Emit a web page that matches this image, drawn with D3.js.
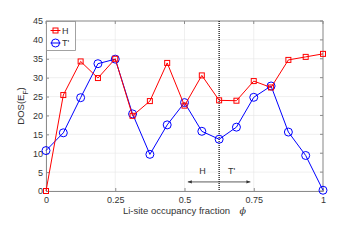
<!DOCTYPE html>
<html>
<head>
<meta charset="utf-8">
<script src="https://cdn.jsdelivr.net/npm/d3@7"></script>
<style>
  body { margin: 0; background: #fff; }
  text { font-family: "Liberation Sans", Arial, sans-serif; }
</style>
</head>
<body>
<div id="chart"></div>
<script>
var phi = d3.range(17).map(function(i){ return i / 16; });
var hValues = [0, 25.4, 34.3, 29.9, 35.0, 19.9, 23.8, 33.9, 22.6, 30.6, 24.0, 23.9, 29.1, 27.4, 34.7, 35.5, 36.3];
var tValues = [10.7, 15.4, 24.7, 33.7, 34.9, 20.4, 9.7, 17.5, 23.4, 15.8, 13.7, 16.9, 24.8, 27.8, 15.6, 9.4, 0.2];
var xTicks = [0, 0.25, 0.5, 0.75, 1];
var xTickLabels = ["0", "0.25", "0.5", "0.75", "1"];
var yTicks = d3.range(0, 46, 5);
var splitPhi = 0.625;

var width = 357, height = 243,
    margin = {top: 21, right: 34, bottom: 52, left: 46};

var svg = d3.select("#chart").append("svg")
  .attr("width", width)
  .attr("height", height);

var x = d3.scaleLinear().domain([0, 1]).range([margin.left, width - margin.right]);
var y = d3.scaleLinear().domain([0, 45]).range([height - margin.bottom, margin.top]);

// grid
svg.append("g").selectAll("line").data(xTicks).enter().append("line")
  .attr("x1", function(d){ return x(d); }).attr("x2", function(d){ return x(d); })
  .attr("y1", y(0)).attr("y2", y(45))
  .style("stroke", "#e6e6e6").style("stroke-width", 0.6);
svg.append("g").selectAll("line").data(yTicks).enter().append("line")
  .attr("x1", x(0)).attr("x2", x(1))
  .attr("y1", function(d){ return y(d); }).attr("y2", function(d){ return y(d); })
  .style("stroke", "#e6e6e6").style("stroke-width", 0.6);

// axes
var xAxis = svg.append("g")
  .attr("transform", "translate(0," + y(0) + ")")
  .call(d3.axisBottom(x).tickValues(xTicks).tickSize(-3).tickPadding(6)
    .tickFormat(function(d, i){ return xTickLabels[i]; }));
var yAxis = svg.append("g")
  .attr("transform", "translate(" + x(0) + ",0)")
  .call(d3.axisLeft(y).tickValues(yTicks).tickSize(-3).tickPadding(3));
[xAxis, yAxis].forEach(function(a){
  a.select(".domain").style("stroke", "#8c8c8c");
  a.selectAll(".tick line").style("stroke", "#8c8c8c");
  a.selectAll("text").style("font-size", "9px").style("fill", "#333");
});

// box top/right
svg.append("line").attr("x1", x(0)).attr("x2", x(1)).attr("y1", y(45)).attr("y2", y(45))
  .style("stroke", "#8c8c8c").style("stroke-width", 1);
svg.append("line").attr("x1", x(1)).attr("x2", x(1)).attr("y1", y(45)).attr("y2", y(0))
  .style("stroke", "#8c8c8c").style("stroke-width", 1);
svg.append("g").selectAll("line").data(xTicks).enter().append("line")
  .attr("x1", function(d){ return x(d); }).attr("x2", function(d){ return x(d); })
  .attr("y1", y(45)).attr("y2", y(45) + 3).style("stroke", "#8c8c8c");
svg.append("g").selectAll("line").data(yTicks).enter().append("line")
  .attr("x1", x(1)).attr("x2", x(1) - 3)
  .attr("y1", function(d){ return y(d); }).attr("y2", function(d){ return y(d); })
  .style("stroke", "#8c8c8c");

// dotted split line
svg.append("line")
  .attr("x1", x(splitPhi)).attr("x2", x(splitPhi))
  .attr("y1", y(45)).attr("y2", y(0))
  .style("stroke", "#000").style("stroke-width", 1.2).style("stroke-dasharray", "1,1");

// arrows
svg.append("defs").append("marker")
  .attr("id", "arr").attr("viewBox", "0 0 10 10").attr("refX", 10).attr("refY", 5)
  .attr("markerWidth", 5).attr("markerHeight", 5).attr("orient", "auto-start-reverse")
  .append("path").attr("d", "M0,1L10,5L0,9z").style("fill", "#333");
var arrowY = y(2.4);
svg.append("line").attr("x1", x(splitPhi)).attr("x2", x(0.512)).attr("y1", arrowY).attr("y2", arrowY)
  .style("stroke", "#333").style("stroke-width", 0.8).attr("marker-end", "url(#arr)");
svg.append("line").attr("x1", x(splitPhi)).attr("x2", x(0.738)).attr("y1", arrowY).attr("y2", arrowY)
  .style("stroke", "#333").style("stroke-width", 0.8).attr("marker-end", "url(#arr)");
svg.append("text").attr("x", x(0.565)).attr("y", y(4.6)).attr("text-anchor", "middle")
  .style("font-size", "9px").style("fill", "#333").text("H");
svg.append("text").attr("x", x(0.67)).attr("y", y(4.6)).attr("text-anchor", "middle")
  .style("font-size", "9px").style("fill", "#333").text("T'");

// series
var line = d3.line().x(function(d){ return x(d[0]); }).y(function(d){ return y(d[1]); });
var hData = phi.map(function(p, i){ return [p, hValues[i]]; });
var tData = phi.map(function(p, i){ return [p, tValues[i]]; });

svg.append("path").datum(tData).attr("d", line)
  .style("fill", "none").style("stroke", "#0000ff").style("stroke-width", 1);
svg.append("g").selectAll("circle").data(tData).enter().append("circle")
  .attr("cx", function(d){ return x(d[0]); }).attr("cy", function(d){ return y(d[1]); })
  .attr("r", 4).style("fill", "none").style("stroke", "#0000ff").style("stroke-width", 1);

svg.append("path").datum(hData).attr("d", line)
  .style("fill", "none").style("stroke", "#ff0000").style("stroke-width", 1);
svg.append("g").selectAll("rect").data(hData).enter().append("rect")
  .attr("x", function(d){ return x(d[0]) - 2.5; }).attr("y", function(d){ return y(d[1]) - 2.5; })
  .attr("width", 5).attr("height", 5)
  .style("fill", "none").style("stroke", "#ff0000").style("stroke-width", 1);

// legend
var lg = svg.append("g").attr("transform", "translate(" + (x(0) + 0.5) + "," + (y(45) + 0.5) + ")");
lg.append("rect").attr("width", 29).attr("height", 29)
  .style("fill", "#fff").style("stroke", "#8c8c8c").style("stroke-width", 0.8);
lg.append("line").attr("x1", 4).attr("x2", 14).attr("y1", 9).attr("y2", 9).style("stroke", "#ff0000");
lg.append("rect").attr("x", 6.5).attr("y", 6.5).attr("width", 5).attr("height", 5)
  .style("fill", "none").style("stroke", "#ff0000");
lg.append("text").attr("x", 15.5).attr("y", 12.3).style("font-size", "9px").style("fill", "#333").text("H");
lg.append("line").attr("x1", 4).attr("x2", 14).attr("y1", 21.5).attr("y2", 21.5).style("stroke", "#0000ff");
lg.append("circle").attr("cx", 9).attr("cy", 21.5).attr("r", 4)
  .style("fill", "none").style("stroke", "#0000ff");
lg.append("text").attr("x", 15.5).attr("y", 24.8).style("font-size", "9px").style("fill", "#333").text("T'");

// axis labels
svg.append("text")
  .attr("transform", "translate(24," + y(22.5) + ") rotate(-90)")
  .attr("text-anchor", "middle").style("font-size", "9.5px").style("fill", "#333")
  .html("DOS(E<tspan baseline-shift='sub' font-size='6.5px'>F</tspan>)");
var xl = svg.append("text").attr("x", x(0.5)).attr("y", 214).attr("text-anchor", "middle")
  .style("font-size", "9.5px").style("fill", "#333");
xl.append("tspan").text("Li-site occupancy fraction\u2003");
xl.append("tspan").style("font-style", "italic").style("font-family", "'DejaVu Serif', serif").text("\u03d5");
</script>
</body>
</html>
